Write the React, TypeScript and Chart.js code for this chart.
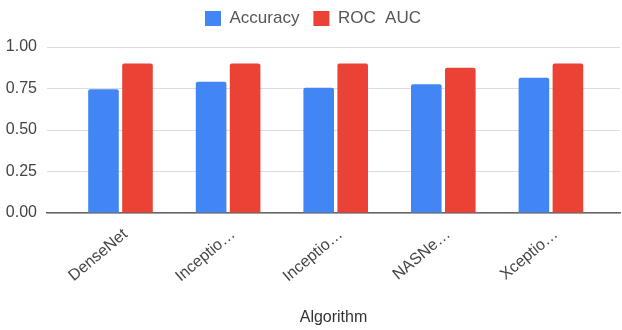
import React, { useEffect, useRef } from "react";
import { Chart, registerables } from "chart.js";

Chart.register(...registerables);

const categories = ["DenseNet", "Inceptio…", "Inceptio…", "NASNe…", "Xceptio…"];
const accuracy = [0.745, 0.79, 0.755, 0.775, 0.815];
const rocAuc = [0.9, 0.9, 0.9, 0.875, 0.9];
const yTicks = [0, 0.25, 0.5, 0.75, 1.0];
const seriesNames = ["Accuracy", "ROC  AUC"];

const FONT = "'Liberation Sans', Arial, sans-serif";

export default function App() {
  const ref = useRef<HTMLCanvasElement | null>(null);

  useEffect(() => {
    document.body.style.margin = "0";
    const canvas = ref.current;
    if (!canvas) return;

    const legendSpacer = {
      id: "legendSpacer",
      beforeInit(chart: any) {
        const legend = chart.legend;
        if (!legend) return;
        const orig = legend.fit;
        legend.fit = function () {
          orig.call(this);
          this.height += 10;
        };
      },
    };

    const chart = new Chart(canvas, {
      type: "bar",
      data: {
        datasets: [
          {
            label: seriesNames[0],
            data: accuracy.map((v, i) => ({ x: i, y: v })),
            backgroundColor: "#4285F4",
            borderRadius: 2,
            categoryPercentage: 0.632,
            barPercentage: 0.9,
          },
          {
            label: seriesNames[1],
            data: rocAuc.map((v, i) => ({ x: i, y: v })),
            backgroundColor: "#EA4335",
            borderRadius: 2,
            categoryPercentage: 0.632,
            barPercentage: 0.9,
          },
        ],
      },
      options: {
        animation: false,
        responsive: false,
        maintainAspectRatio: false,
        layout: { padding: { left: 6, right: 2, top: -4, bottom: 0 } },
        plugins: {
          legend: {
            position: "top",
            labels: {
              boxWidth: 16,
              boxHeight: 15,
              padding: 14,
              color: "#555",
              font: { family: FONT, size: 17 },
            },
          },
          tooltip: { enabled: false },
        },
        scales: {
          x: {
            type: "linear",
            min: -0.683,
            max: 4.642,
            offset: false,
            grid: { display: false, drawTicks: false },
            border: { display: true, color: "#666", width: 1.5 },
            afterBuildTicks: (scale: any) => {
              scale.ticks = categories.map((_, i) => ({ value: i }));
            },
            afterFit: (scale: any) => {
              scale.height = 117;
            },
            ticks: {
              autoSkip: false,
              minRotation: 40,
              maxRotation: 40,
              padding: 12,
              labelOffset: 5,
              color: "#444",
              font: { family: FONT, size: 16 },
              callback: (v: any) => categories[Math.round(Number(v))] ?? "",
            },
            title: {
              display: true,
              text: "Algorithm",
              color: "#333",
              font: { family: FONT, size: 16 },
              padding: { top: 4, bottom: 3 },
            },
          },
          y: {
            min: 0,
            max: 1,
            afterBuildTicks: (scale: any) => {
              scale.ticks = yTicks.map((v) => ({ value: v }));
            },
            afterFit: (scale: any) => {
              scale.width = 41;
            },
            grid: { color: "#dcdcdc", drawTicks: false },
            border: { display: false },
            ticks: {
              padding: 10,
              color: "#444",
              font: { family: FONT, size: 16 },
              callback: (v: any) => Number(v).toFixed(2),
            },
          },
        },
      },
      plugins: [legendSpacer],
    } as any);

    return () => chart.destroy();
  }, []);

  return (
    <div style={{ width: 622, height: 330 }}>
      <canvas ref={ref} width={622} height={330} style={{ width: 622, height: 330 }} />
    </div>
  );
}
